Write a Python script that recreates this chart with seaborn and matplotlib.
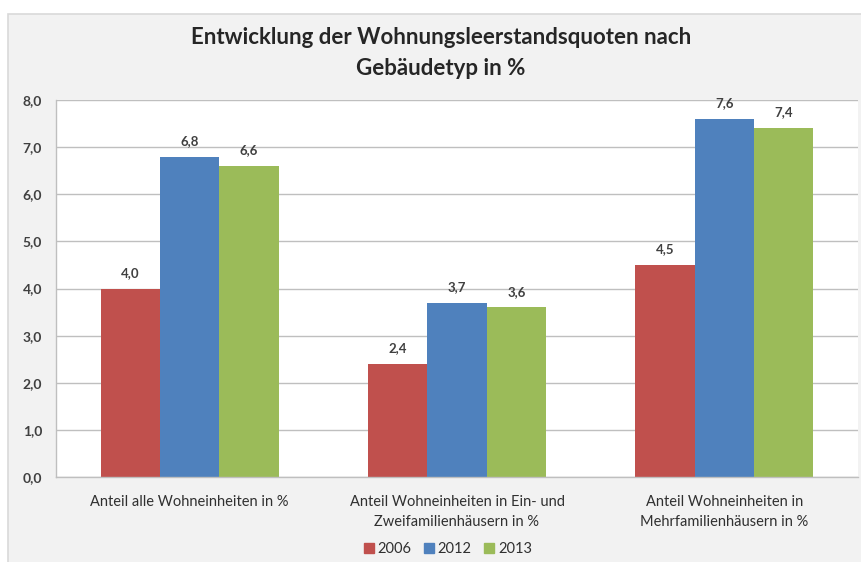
import matplotlib
matplotlib.use("Agg")
import matplotlib.pyplot as plt
import matplotlib.patches as mpatches
from matplotlib.ticker import FuncFormatter, FixedLocator
from matplotlib.lines import Line2D
import seaborn as sns
import pandas as pd

categories = [
    "Anteil alle Wohneinheiten in %",
    "Anteil Wohneinheiten in Ein- und\nZweifamilienhäusern in %",
    "Anteil Wohneinheiten in\nMehrfamilienhäusern in %",
]
years = ["2006", "2012", "2013"]
values_2006 = [4.0, 2.4, 4.5]
values_2012 = [6.8, 3.7, 7.6]
values_2013 = [6.6, 3.6, 7.4]
colors = ["#C0504D", "#4F81BD", "#9BBB59"]
title_lines = ["Entwicklung der Wohnungsleerstandsquoten nach", "Gebäudetyp in %"]

rows = []
for yr, vals in zip(years, [values_2006, values_2012, values_2013]):
    for c, v in zip(categories, vals):
        rows.append({"Kategorie": c, "Jahr": yr, "Wert": v})
df = pd.DataFrame(rows)

sns.set_theme(style="white")
plt.rcParams["font.family"] = ["Lato", "DejaVu Sans"]

W, H = 861, 562
fig = plt.figure(figsize=(W / 100, H / 100), dpi=100)
fig.patch.set_facecolor("white")

# chart area background (Excel-like)
bg = mpatches.Rectangle((8 / W, -0.01), 1.01 - 8 / W, 1 - 14 / H + 0.01,
                        transform=fig.transFigure, facecolor="#F2F2F2",
                        edgecolor="#D9D9D9", linewidth=1.2, zorder=-10)
fig.patches.append(bg)

ax = fig.add_axes([56 / W, 1 - 477 / H, (858 - 56) / W, (477 - 100) / H])
ax.set_facecolor("white")

sns.barplot(data=df, x="Kategorie", y="Wert", hue="Jahr", order=categories,
            hue_order=years, palette=colors, width=0.667, saturation=1,
            dodge=True, gap=0, ax=ax, legend=False, edgecolor="none")

ax.set_ylim(0, 8)
ax.set_xlim(-0.5, 2.5)
ax.set_yticks(range(0, 9))
ax.yaxis.set_major_formatter(FuncFormatter(lambda v, p: f"{v:.1f}".replace(".", ",")))
ax.grid(axis="y", color="#BFBFBF", linewidth=1)
ax.set_axisbelow(True)
ax.set_xlabel("")
ax.set_ylabel("")

for s in ["top", "right"]:
    ax.spines[s].set_visible(False)
for s in ["left", "bottom"]:
    ax.spines[s].set_color("#BFBFBF")
    ax.spines[s].set_linewidth(1)

ax.tick_params(axis="y", which="major", length=4, color="#BFBFBF", width=1,
               labelsize=10, labelcolor="#404040", pad=6)
ax.tick_params(axis="x", which="major", length=0, labelsize=10.5,
               labelcolor="#303030", pad=13)
ax.xaxis.set_minor_locator(FixedLocator([-0.5, 0.5, 1.5, 2.5]))
ax.tick_params(axis="x", which="minor", length=4, color="#BFBFBF", width=1)
for lbl in ax.get_yticklabels():
    lbl.set_fontweight("bold")
for lbl in ax.get_xticklabels():
    lbl.set_linespacing(1.55)

for cont in ax.containers:
    ax.bar_label(cont, labels=[f"{b.get_height():.1f}".replace(".", ",") for b in cont],
                 padding=7, fontsize=9.5, fontweight="bold", color="#404040")

fig.text(0.512, 1 - 38 / H, title_lines[0], ha="center", va="center",
         fontsize=16, fontweight="bold", color="#262626")
fig.text(0.512, 1 - 68 / H, title_lines[1], ha="center", va="center",
         fontsize=16, fontweight="bold", color="#262626")

handles = [Line2D([0], [0], marker="s", linestyle="none", markersize=7,
                  markerfacecolor=c, markeredgecolor=c) for c in colors]
fig.legend(handles, years, loc="center", bbox_to_anchor=(446 / W, 1 - 549 / H),
           ncol=3, frameon=False, fontsize=10.5, handletextpad=0.0,
           columnspacing=0.6, handlelength=1.2, labelcolor="#303030")

fig.savefig("out.png", dpi=100, facecolor=fig.get_facecolor())
